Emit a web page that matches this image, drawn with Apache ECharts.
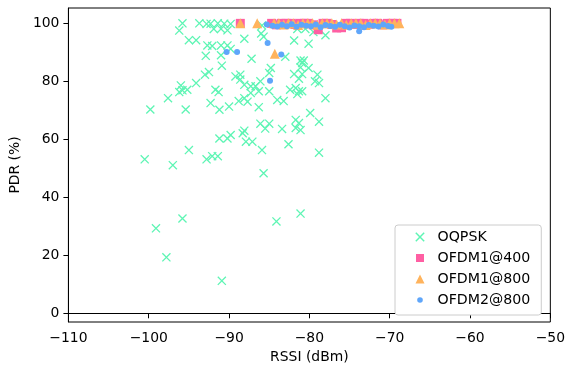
<!DOCTYPE html>
<html><head><meta charset="utf-8">
<script src="https://cdn.jsdelivr.net/npm/echarts@6/dist/echarts.min.js"></script>
<style>html,body{margin:0;padding:0;background:#fff}#c{width:568px;height:370px}</style>
</head><body><div id="c"></div>
<script>
const xTicks = [-110, -100, -90, -80, -70, -60, -50];
const yTicks = [0, 20, 40, 60, 80, 100];
const seriesNames = ['OQPSK', 'OFDM1@400', 'OFDM1@800', 'OFDM2@800'];

const oqpskRssi = [-95.8,-96.2,-93.7,-92.8,-92.3,-91.4,-90.6,-89.8,-91.0,-90.2,-91.9,-85.9,-86.0,-81.5,-80.5,-79.5,-78.0,
  -95.0,-94.1,-88.1,-81.9,-80.1,-85.7,-92.7,-92.1,-91.0,-90.2,-89.8,
  -92.9,-91.0,-87.2,-83.0,-81.1,-80.7,-90.9,-80.9,-81.1,-80.1,-84.8,-85.0,
  -92.5,-93.0,-89.2,-88.6,-88.6,-94.1,-96.0,-95.8,-96.2,-95.2,-91.7,-91.3,-88.1,-87.3,-86.7,-86.1,-86.3,-87.3,-85.0,
  -81.9,-80.9,-81.3,-79.0,-79.3,-78.8,-82.4,-81.7,-81.3,-80.9,-81.5,
  -97.6,-99.8,-95.4,-92.3,-91.2,-90.0,-88.8,-87.7,-88.1,-86.3,-83.2,-84.0,-78.0,-79.9,
  -78.8,-81.7,-81.3,-81.7,-81.1,-83.4,-86.1,-85.0,-85.5,-88.1,-88.3,-87.9,-87.1,-91.2,-90.2,-89.8,-82.6,-85.9,-78.8,
  -95.0,-92.8,-92.1,-91.4,-97.0,-100.5,-85.7,
  -95.8,-81.1,-84.1,-99.1,-97.8,-90.9];
const oqpskPdr = [100,97.5,100,99.8,99.9,100,99.9,99.8,98.1,97.6,98.1,99.3,96.5,98.1,98.1,97.0,95.9,
  94.2,94.2,94.7,94.1,93.0,95.4,92.4,92.2,92.4,92.4,91.2,
  88.8,89.0,87.8,88.5,87.2,87.2,85.4,86.3,84.8,84.6,84.6,82.9,
  83.2,82.3,81.7,82.3,80.6,79.4,78.6,76.9,76.3,77.1,77.1,76.3,78.8,78.3,78.3,80.0,76.6,76.0,76.6,
  82.5,82.5,80.9,82.3,80.0,79.4,77.1,77.7,76.6,76.6,75.6,
  74.2,70.3,70.3,72.5,70.2,71.3,73.2,73.0,74.2,71.1,73.2,73.6,74.2,69.1,
  66.1,66.7,65.6,63.9,63.2,63.6,65.4,65.4,63.7,63.0,62.1,59.2,59.2,60.3,60.3,61.5,58.3,56.3,55.4,
  56.3,53.1,54.2,54.2,51.1,53.1,48.3,
  32.7,34.4,31.7,29.3,19.3,11.2];

const ofdm1_400Rssi = [-88.6,-84.7,-84.1,-83.5,-82.9,-82.3,-81.8,-81.2,-80.6,-80.1,-79.5,-78.9,-78.3,-77.8,-77.2,-76.6,-76.0,-75.5,-74.9,-74.3,-73.8,-73.2,-72.6,-72.0,-71.5,-70.9,-70.3,-69.7,-69.1];
const ofdm1_400Pdr = [100,100,99.5,100,100,100,99.6,100,100,100,99.5,97.8,100,100,99.6,98.4,98.5,100,100,99.6,100,100,99.7,100,100,99.5,100,100,100];

const ofdm1_800Rssi = [-88.6,-86.5,-84.3,-84.4,-83.8,-83.2,-82.6,-82.0,-81.4,-80.8,-80.2,-79.6,-79.0,-78.4,-77.8,-77.2,-76.6,-76.0,-75.4,-74.8,-74.2,-73.6,-73.0,-72.4,-71.8,-71.2,-70.6,-70.0,-69.4,-68.8];
const ofdm1_800Pdr = [100,100,89.5,100,100,99.6,100,100,99.4,100,100,100,99.5,100,100,100,99.6,100,99.5,100,100,100,99.4,100,100,100,99.6,100,100,100];

const ofdm2_800Rssi = [-90.3,-89.0,-85.2,-84.9,-83.5,-73.8,-85.3,-84.6,-84.0,-83.4,-82.8,-82.2,-81.6,-81.0,-80.4,-79.8,-79.2,-78.6,-78.0,-77.4,-76.8,-76.2,-75.6,-75.0,-74.4,-73.8,-73.2,-72.6,-72.0,-71.4,-70.8,-70.2,-69.8];
const ofdm2_800Pdr = [90.1,90.1,93.2,80.2,89.3,97.3,99.6,99.2,98.9,99.5,99.0,99.7,98.8,99.5,99.2,99.0,99.6,98.7,99.4,99.1,98.8,99.5,99.0,98.6,99.3,99.0,98.7,99.4,99.2,98.9,99.6,99.1,98.8];

const colors = ['#5ef5b4', '#ff5fa3', '#ffb35c', '#5fa6fa'];
const FONT = 'DejaVu Sans';
const X_PATH = 'path://M0.57,-0.57L10.57,9.43L9.43,10.57L-0.57,0.57ZM0.57,10.57L-0.57,9.43L9.43,-0.57L10.57,0.57Z';
const LEG_X = 'path://M-0.5,-0.5M10.5,10.5M0.95,-0.19L10.19,9.05L9.05,10.19L-0.19,0.95ZM0.95,10.19L-0.19,9.05L9.05,-0.19L10.19,0.95Z';
const LEG_SQ = 'path://M0,0M10,10M1,1L9,1L9,9L1,9Z';
const LEG_TRI = 'path://M0,0M10,10M5,0.5L9.5,9.5L0.5,9.5Z';
const LEG_DOT = 'path://M0,0M10,10M5,2.2A2.8,2.8,0,1,1,5,7.8A2.8,2.8,0,1,1,5,2.2Z';

function pairs(xs, ys) { return xs.map((x, i) => [x, ys[i]]); }
const fmt = v => (v < 0 ? '\u2212' + Math.abs(v) : String(v));

const chart = echarts.init(document.getElementById('c'), null, {renderer: 'canvas'});
chart.setOption({
  animation: false,
  backgroundColor: '#ffffff',
  textStyle: {fontFamily: FONT},
  grid: {left: 67, right: 17, top: 8, bottom: 48, show: true, borderColor: '#000', borderWidth: 1, backgroundColor: 'transparent'},
  xAxis: {
    type: 'value', min: -110, max: -50, interval: 10,
    name: 'RSSI (dBm)', nameLocation: 'middle', nameGap: 25,
    nameTextStyle: {color: '#000', fontSize: 13.9, fontFamily: FONT},
    axisLine: {show: true, lineStyle: {color: '#000', width: 1}},
    axisTick: {show: true, inside: false, length: 5, lineStyle: {color: '#000', width: 1}},
    axisLabel: {color: '#000', fontSize: 13.9, fontFamily: FONT, margin: 9, formatter: fmt},
    splitLine: {show: false}
  },
  yAxis: {
    type: 'value', min: -3, max: 105.3,
    name: 'PDR (%)', nameLocation: 'middle', nameGap: 38,
    nameTextStyle: {color: '#000', fontSize: 13.9, fontFamily: FONT},
    axisLine: {show: true, onZero: false, lineStyle: {color: '#000', width: 1}},
    axisTick: {show: true, inside: false, length: 5, lineStyle: {color: '#000', width: 1}, customValues: yTicks},
    axisLabel: {color: '#000', fontSize: 13.9, fontFamily: FONT, margin: 9, formatter: fmt, customValues: yTicks},
    splitLine: {show: false}
  },
  legend: {
    orient: 'vertical', left: 395, top: 225,
    padding: [4, 11, 7, 20], itemGap: 5, itemWidth: 25, itemHeight: 10,
    backgroundColor: '#fff', borderColor: '#cccccc', borderWidth: 1, borderRadius: 3,
    textStyle: {color: '#000', fontSize: 14.2, fontFamily: FONT, lineHeight: 16, padding: 0},
    data: [
      {name: seriesNames[0], icon: LEG_X},
      {name: seriesNames[1], icon: LEG_SQ},
      {name: seriesNames[2], icon: LEG_TRI},
      {name: seriesNames[3], icon: LEG_DOT}
    ]
  },
  series: [
    {name: seriesNames[0], type: 'scatter', symbol: X_PATH, symbolSize: 9, itemStyle: {color: colors[0], opacity: 1}, data: pairs(oqpskRssi, oqpskPdr)},
    {name: seriesNames[1], type: 'scatter', symbol: 'rect', symbolSize: 9, itemStyle: {color: colors[1], opacity: 1}, data: pairs(ofdm1_400Rssi, ofdm1_400Pdr)},
    {name: seriesNames[2], type: 'scatter', symbol: 'triangle', symbolSize: 10, itemStyle: {color: colors[2], opacity: 1}, data: pairs(ofdm1_800Rssi, ofdm1_800Pdr)},
    {name: seriesNames[3], type: 'scatter', symbol: 'circle', symbolSize: 6, itemStyle: {color: colors[3], opacity: 1}, data: pairs(ofdm2_800Rssi, ofdm2_800Pdr)}
  ]
});
</script></body></html>
